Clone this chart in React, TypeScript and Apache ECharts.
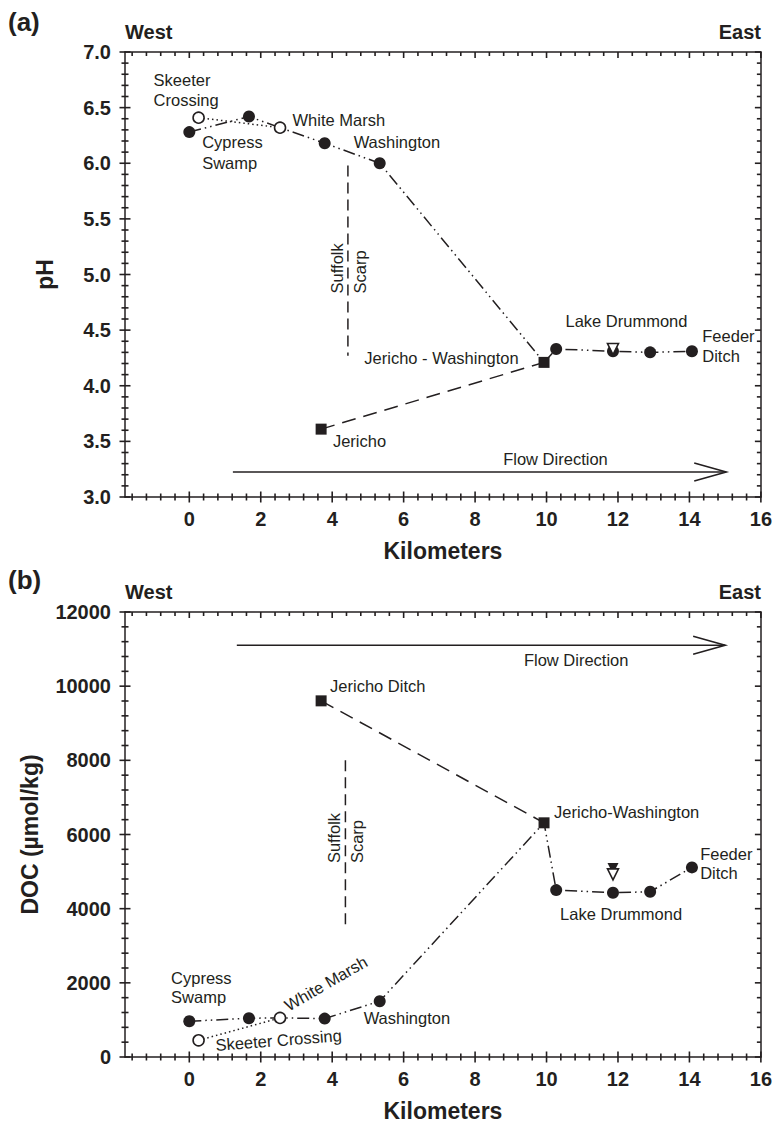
import React, { useEffect, useRef } from "react";
import * as echarts from "echarts";

// ---------- data ----------
const siteNames = [
  "Cypress Swamp", "Skeeter Crossing", "km 1.7", "White Marsh", "km 3.8", "Washington",
  "Jericho", "Jericho-Washington", "km 10.3", "Lake Drummond", "km 12.9", "Feeder Ditch",
];
const siteKm = [0.0, 0.26, 1.67, 2.54, 3.79, 5.33, 3.69, 9.93, 10.27, 11.86, 12.9, 14.07];
const phValues = [6.28, 6.41, 6.42, 6.32, 6.18, 6.0, 3.61, 4.21, 4.33, 4.31, 4.3, 4.31];
const docValues = [964, 450, 1045, 1054, 1036, 1505, 9604, 6315, 4501, 4429, 4456, 5113];
const siteMarker = ["filled", "open", "filled", "open", "filled", "filled", "square", "square", "filled", "filled", "filled", "filled"];
const mainPath = [0, 2, 3, 4, 5, 7, 8, 9, 10, 11];
const dottedPath = [1, 3];
const dashedPath = [6, 7];

const lakeTriangleKm = 11.86;
const phLakeOpenTriangle = 4.33;
const docLakeFilledTriangle = 5086;
const docLakeOpenTriangle = 4925;

// ---------- axes / ticks ----------
const X_MIN = -1.8;
const X_MAX = 16;
const PH_RANGE = [3, 7];
const DOC_RANGE = [0, 12000];
const xMajorTicks = [0, 2, 4, 6, 8, 10, 12, 14, 16];
const phMajorTicks = [3, 3.5, 4, 4.5, 5, 5.5, 6, 6.5, 7];
const docMajorTicks = [0, 2000, 4000, 6000, 8000, 10000, 12000];

function minorBetween(majors: number[], from: number, to: number, step: number) {
  const out: number[] = [];
  const n = Math.round((to - from) / step);
  for (let k = 0; k <= n; k++) {
    const v = Math.round((from + k * step) * 1000) / 1000;
    if (!majors.some((m) => Math.abs(m - v) < 1e-6)) out.push(v);
  }
  return out;
}
const xMinorTicks = minorBetween(xMajorTicks, -1.6, 15.6, 0.4);
const phMinorTicks = minorBetween(phMajorTicks, 3, 7, 0.1);
const docMinorTicks = minorBetween(docMajorTicks, 0, 12000, 400);

// annotation geometry (data units)
const scarpA = { km: 4.44, from: 5.98, to: 4.27 };
const scarpB = { km: 4.37, from: 8000, to: 3500 };
const arrowA = [1.22, 15.03, 3.225];
const arrowB = [1.33, 15.0, 11105];

const labelsA = [
  { t: "Skeeter", x: -1.0, y: 6.75 },
  { t: "Crossing", x: -1.0, y: 6.57 },
  { t: "Cypress", x: 0.36, y: 6.19 },
  { t: "Swamp", x: 0.36, y: 6.0 },
  { t: "White Marsh", x: 2.89, y: 6.385 },
  { t: "Washington", x: 4.6, y: 6.19 },
  { t: "Suffolk", x: 4.13, y: 4.83, rot: 90 },
  { t: "Scarp", x: 4.77, y: 4.83, rot: 90 },
  { t: "Lake Drummond", x: 10.53, y: 4.58 },
  { t: "Feeder", x: 14.36, y: 4.45 },
  { t: "Ditch", x: 14.36, y: 4.27 },
  { t: "Jericho - Washington", x: 4.9, y: 4.25 },
  { t: "Jericho", x: 4.02, y: 3.5 },
  { t: "Flow Direction", x: 10.25, y: 3.34, align: "center" },
];
const labelsB = [
  { t: "Jericho Ditch", x: 3.94, y: 10000 },
  { t: "Suffolk", x: 4.06, y: 5229, rot: 90 },
  { t: "Scarp", x: 4.69, y: 5229, rot: 90 },
  { t: "Jericho-Washington", x: 10.21, y: 6596 },
  { t: "Feeder", x: 14.3, y: 5472 },
  { t: "Ditch", x: 14.3, y: 4951 },
  { t: "Lake Drummond", x: 10.38, y: 3854 },
  { t: "Cypress", x: -0.51, y: 2138 },
  { t: "Swamp", x: -0.51, y: 1609 },
  { t: "White Marsh", x: 3.82, y: 1986, rot: 30, align: "center" },
  { t: "Skeeter Crossing", x: 2.5, y: 458, rot: 4.5, align: "center" },
  { t: "Washington", x: 4.88, y: 1060 },
  { t: "Flow Direction", x: 10.83, y: 10700, align: "center" },
];

// ---------- styling / layout ----------
const INK = "#231f20";
const FONT = '"Liberation Sans", Arial, sans-serif';
const lineSty = { color: INK, width: 1.5 };
const tickLabel = { fontSize: 20, fontWeight: "bold", fontFamily: FONT, color: INK };
const nameSty = { fontSize: 23, fontWeight: "bold", fontFamily: FONT, color: INK };
const PLOT_LEFT = 125;
const PLOT_W = 636;
const PLOT_H = 445;
const PANEL_TOPS = [52, 612];
const TICK_CROSS = { major: 5.5, minor: 3.5 };
const TICK_IN = { major: 6, minor: 4 };
const TICK_W = 1.6;

function xAxesFor(g: number) {
  return [
    {
      type: "value", gridIndex: g, min: X_MIN, max: X_MAX, position: "bottom", splitLine: { show: false },
      axisLine: { show: true, onZero: false, lineStyle: lineSty },
      axisTick: { show: false }, minorTick: { show: false },
      axisLabel: { show: true, customValues: xMajorTicks, margin: 12, ...tickLabel },
      name: "Kilometers", nameLocation: "middle", nameGap: 42, nameTextStyle: nameSty, nameMoveOverlap: false,
    },
    {
      type: "value", gridIndex: g, min: X_MIN, max: X_MAX, position: "top", splitLine: { show: false },
      axisLine: { show: true, onZero: false, lineStyle: lineSty },
      axisTick: { show: false }, minorTick: { show: false }, axisLabel: { show: false },
    },
  ];
}
function yAxesFor(g: number, range: number[], interval: number, name: string, nameGap: number, fmt: (v: number) => string) {
  const base = { type: "value", gridIndex: g, min: range[0], max: range[1], interval, splitLine: { show: false }, axisTick: { show: false }, minorTick: { show: false } };
  return [
    {
      ...base, position: "left",
      axisLine: { show: true, onZero: false, lineStyle: lineSty },
      axisLabel: { show: true, margin: 14, formatter: fmt, ...tickLabel },
      name, nameLocation: "middle", nameGap, nameRotate: 90, nameTextStyle: nameSty, nameMoveOverlap: false,
    },
    { ...base, position: "right", axisLine: { show: true, onZero: false, lineStyle: lineSty }, axisLabel: { show: false } },
  ];
}

function pathData(path: number[], vals: number[]) {
  return path.map((i) => [siteKm[i], vals[i]]);
}
function markerData(kind: string, vals: number[]) {
  const out: number[][] = [];
  siteKm.forEach((k, i) => { if (siteMarker[i] === kind) out.push([k, vals[i]]); });
  return out;
}

// tick marks drawn through the cartesian scale (api.coord)
function xTickSeries(ax: any, yRange: number[]) {
  const data = [
    ...xMajorTicks.map((v) => [v, yRange[0], yRange[1], 1]),
    ...xMinorTicks.map((v) => [v, yRange[0], yRange[1], 0]),
  ];
  return {
    type: "custom", ...ax, data, encode: { x: 0, y: 1 }, clip: false, silent: true, z: 6,
    renderItem: (params: any, api: any) => {
      const pb = api.coord([api.value(0), api.value(1)]);
      const pt = api.coord([api.value(0), api.value(2)]);
      const major = api.value(3) === 1;
      const c = major ? TICK_CROSS.major : TICK_CROSS.minor;
      const inn = major ? TICK_IN.major : TICK_IN.minor;
      const st = { stroke: INK, lineWidth: TICK_W };
      return {
        type: "group",
        children: [
          { type: "line", shape: { x1: pb[0], y1: pb[1] - c, x2: pb[0], y2: pb[1] + c }, style: st },
          { type: "line", shape: { x1: pt[0], y1: pt[1], x2: pt[0], y2: pt[1] + inn }, style: st },
        ],
      };
    },
  };
}
function yTickSeries(ax: any, majors: number[], minors: number[]) {
  const data = [
    ...majors.map((v) => [X_MIN, v, X_MAX, 1]),
    ...minors.map((v) => [X_MIN, v, X_MAX, 0]),
  ];
  return {
    type: "custom", ...ax, data, encode: { x: 0, y: 1 }, clip: false, silent: true, z: 6,
    renderItem: (params: any, api: any) => {
      const pl = api.coord([api.value(0), api.value(1)]);
      const pr = api.coord([api.value(2), api.value(1)]);
      const major = api.value(3) === 1;
      const c = major ? TICK_CROSS.major : TICK_CROSS.minor;
      const inn = major ? TICK_IN.major : TICK_IN.minor;
      const st = { stroke: INK, lineWidth: TICK_W };
      return {
        type: "group",
        children: [
          { type: "line", shape: { x1: pl[0] - c, y1: pl[1], x2: pl[0] + c, y2: pl[1] }, style: st },
          { type: "line", shape: { x1: pr[0] - inn, y1: pr[1], x2: pr[0], y2: pr[1] }, style: st },
        ],
      };
    },
  };
}

function panelSeries(xi: number, yi: number, vals: number[], yRange: number[], yMajors: number[], yMinors: number[], scarp: any, arrow: number[], labels: any[], extra: any[]) {
  const ax = { xAxisIndex: xi, yAxisIndex: yi };
  return [
    xTickSeries(ax, yRange),
    yTickSeries(ax, yMajors, yMinors),
    { type: "line", ...ax, data: pathData(mainPath, vals), symbol: "none", lineStyle: { color: INK, width: 1.5, type: [12, 4, 1.5, 4, 1.5, 4] }, z: 2 },
    { type: "line", ...ax, data: pathData(dottedPath, vals), symbol: "none", lineStyle: { color: INK, width: 1.5, type: [1.5, 3] }, z: 2 },
    { type: "line", ...ax, data: pathData(dashedPath, vals), symbol: "none", lineStyle: { color: INK, width: 1.5, type: [14, 8] }, z: 2 },
    { type: "line", ...ax, data: [[scarp.km, scarp.from], [scarp.km, scarp.to]], symbol: "none", lineStyle: { color: INK, width: 1.5, type: [11, 6] }, z: 2 },
    {
      type: "custom", ...ax, data: [arrow], encode: { x: [0, 1], y: 2 }, z: 2, clip: false,
      renderItem: (params: any, api: any) => {
        const a = api.coord([api.value(0), api.value(2)]);
        const b = api.coord([api.value(1), api.value(2)]);
        return {
          type: "group",
          children: [
            { type: "line", shape: { x1: a[0], y1: a[1], x2: b[0], y2: b[1] }, style: { stroke: INK, lineWidth: 1.6 } },
            { type: "polyline", shape: { points: [[b[0] - 32, b[1] - 9], [b[0], b[1]], [b[0] - 32, b[1] + 9]] }, style: { stroke: INK, lineWidth: 1.6, fill: null } },
          ],
        };
      },
    },
    { type: "scatter", ...ax, data: markerData("filled", vals), symbol: "circle", symbolSize: 12, itemStyle: { color: INK, opacity: 1 }, z: 3 },
    { type: "scatter", ...ax, data: markerData("open", vals), symbol: "circle", symbolSize: 11, itemStyle: { color: "#fff", borderColor: INK, borderWidth: 1.6, opacity: 1 }, z: 3 },
    { type: "scatter", ...ax, data: markerData("square", vals), symbol: "rect", symbolSize: 11, itemStyle: { color: INK, opacity: 1 }, z: 3 },
    ...extra.map((e) => ({ ...e, ...ax, z: 4 })),
    {
      type: "custom", ...ax, data: labels.map((l) => [l.x, l.y]), encode: { x: 0, y: 1 }, z: 5, clip: false,
      renderItem: (params: any, api: any) => {
        const l = labels[params.dataIndex];
        const pt = api.coord([api.value(0), api.value(1)]);
        return {
          type: "text", x: pt[0], y: pt[1], rotation: ((l.rot || 0) * Math.PI) / 180,
          style: { text: l.t, fill: INK, fontSize: 16.5, fontFamily: FONT, align: l.align || "left", verticalAlign: "middle" },
        };
      },
    },
  ];
}

export default function App() {
  const ref = useRef<HTMLDivElement>(null);
  useEffect(() => {
    if (!ref.current) return;
    const chart = echarts.init(ref.current, undefined, { renderer: "svg" });
    const grid = PANEL_TOPS.map((top) => ({ left: PLOT_LEFT, width: PLOT_W, top, height: PLOT_H, containLabel: false }));
    const option: any = {
      animation: false,
      backgroundColor: "#fff",
      grid,
      xAxis: [...xAxesFor(0), ...xAxesFor(1)],
      yAxis: [
        ...yAxesFor(0, PH_RANGE, 0.5, "pH", 69, (v: number) => v.toFixed(1)),
        ...yAxesFor(1, DOC_RANGE, 2000, "DOC (µmol/kg)", 84, (v: number) => String(v)),
      ],
      graphic: [
        { type: "text", x: 8, y: 22, style: { text: "(a)", fill: INK, font: `bold 26px ${FONT}`, verticalAlign: "middle" } },
        { type: "text", x: 125, y: 32, style: { text: "West", fill: INK, font: `bold 20px ${FONT}`, verticalAlign: "middle" } },
        { type: "text", x: 761, y: 32, style: { text: "East", fill: INK, font: `bold 20px ${FONT}`, align: "right", verticalAlign: "middle" } },
        { type: "text", x: 8, y: 580, style: { text: "(b)", fill: INK, font: `bold 26px ${FONT}`, verticalAlign: "middle" } },
        { type: "text", x: 125, y: 592, style: { text: "West", fill: INK, font: `bold 20px ${FONT}`, verticalAlign: "middle" } },
        { type: "text", x: 761, y: 592, style: { text: "East", fill: INK, font: `bold 20px ${FONT}`, align: "right", verticalAlign: "middle" } },
      ],
      series: [
        ...panelSeries(0, 0, phValues, PH_RANGE, phMajorTicks, phMinorTicks, scarpA, arrowA, labelsA, [
          { type: "scatter", data: [[lakeTriangleKm, phLakeOpenTriangle]], symbol: "triangle", symbolRotate: 180, symbolSize: 11, itemStyle: { color: "#fff", borderColor: INK, borderWidth: 1.6, opacity: 1 } },
        ]),
        ...panelSeries(2, 2, docValues, DOC_RANGE, docMajorTicks, docMinorTicks, scarpB, arrowB, labelsB, [
          { type: "scatter", data: [[lakeTriangleKm, docLakeFilledTriangle]], symbol: "triangle", symbolRotate: 180, symbolSize: 11, itemStyle: { color: INK, opacity: 1 } },
          { type: "scatter", data: [[lakeTriangleKm, docLakeOpenTriangle]], symbol: "triangle", symbolRotate: 180, symbolSize: 11, itemStyle: { color: "#fff", borderColor: INK, borderWidth: 1.6, opacity: 1 } },
        ]),
      ],
    };
    chart.setOption(option);
    return () => chart.dispose();
  }, []);
  return (
    <div
      ref={ref}
      style={{ position: "absolute", left: 0, top: 0, width: 775, height: 1124, background: "#fff" }}
    />
  );
}
